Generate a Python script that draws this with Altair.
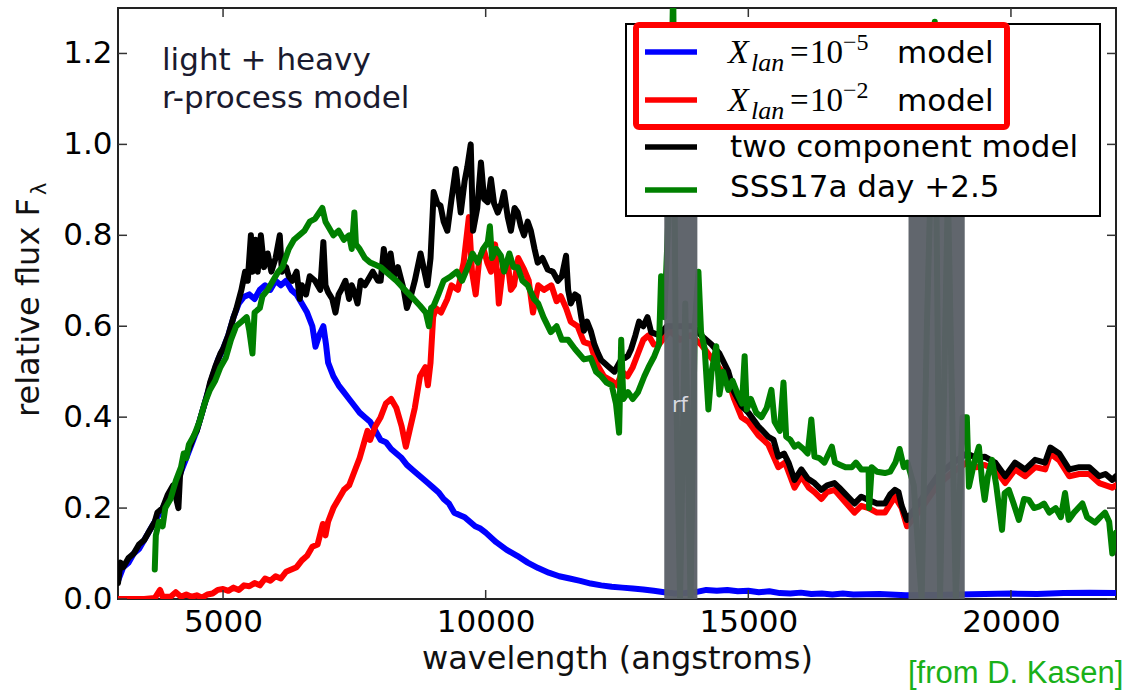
import altair as alt
import pandas as pd

# ---------------- data ----------------
x_ticks = [5000, 10000, 15000, 20000]
y_ticks = [0.0, 0.2, 0.4, 0.6, 0.8, 1.0, 1.2]

blue = [(3000,0.04),(3100,0.07),(3200,0.08),(3300,0.10),(3400,0.11),(3500,0.13),(3600,0.15),(3700,0.17),(3800,0.19),(3900,0.21),
        (4000,0.23),(4100,0.25),(4200,0.28),(4300,0.31),(4400,0.34),(4500,0.37),(4600,0.41),(4700,0.45),(4800,0.49),(4900,0.525),
        (5000,0.55),(5100,0.58),(5200,0.62),(5300,0.65),(5400,0.665),(5500,0.67),(5600,0.66),(5700,0.68),(5800,0.69),(5900,0.68),
        (6000,0.70),(6100,0.69),(6200,0.70),(6300,0.68),(6400,0.67),(6500,0.65),(6600,0.63),(6700,0.60),(6760,0.555),(6830,0.58),
        (6910,0.60),(6960,0.56),(7000,0.52),(7100,0.49),(7200,0.47),(7300,0.455),(7400,0.44),(7500,0.425),(7600,0.41),(7700,0.40),
        (7800,0.39),(7900,0.37),(8000,0.35),(8100,0.345),(8200,0.33),(8300,0.32),(8400,0.31),(8500,0.295),(8600,0.285),(8700,0.275),
        (8800,0.265),(8900,0.255),(9000,0.245),(9100,0.235),(9200,0.22),(9300,0.21),(9400,0.19),(9500,0.185),(9600,0.18),(9700,0.17),
        (9800,0.16),(9900,0.155),(10000,0.146),(10200,0.125),(10400,0.108),(10600,0.095),(10800,0.08),(11000,0.068),(11200,0.058),
        (11400,0.05),(11600,0.045),(11800,0.04),(12000,0.034),(12200,0.03),(12400,0.027),(12600,0.025),(12800,0.023),(13000,0.021),
        (13200,0.018),(13400,0.015),(13600,0.012),(13800,0.013),(14000,0.015),(14200,0.02),(14400,0.018),(14600,0.02),(14800,0.017),
        (15000,0.018),(15200,0.015),(15400,0.017),(15600,0.013),(15800,0.012),(16000,0.014),(16200,0.011),(16400,0.012),(16600,0.01),
        (16800,0.012),(17000,0.01),(17500,0.011),(18000,0.008),(18500,0.009),(19000,0.01),(19500,0.011),(20000,0.012),(20500,0.011),
        (21000,0.013),(21500,0.014),(22000,0.013)]

red = [(3000,0.0),(3500,0.0),(3700,0.002),(3800,0.02),(3850,0.005),(4000,0.005),(4100,0.015),(4200,0.005),(4300,0.01),(4400,0.005),
       (4500,0.008),(4600,0.003),(4700,0.01),(4800,0.012),(4900,0.02),(5000,0.022),(5100,0.018),(5200,0.025),(5300,0.02),(5400,0.03),
       (5500,0.028),(5600,0.035),(5700,0.03),(5800,0.045),(5900,0.04),(6000,0.05),(6100,0.045),(6200,0.06),(6300,0.065),(6400,0.07),
       (6500,0.085),(6600,0.095),(6700,0.115),(6800,0.12),(6900,0.165),(6950,0.14),(7000,0.17),(7100,0.2),(7200,0.22),(7300,0.24),
       (7400,0.25),(7500,0.28),(7600,0.31),(7700,0.35),(7750,0.37),(7800,0.35),(7900,0.38),(8000,0.40),(8100,0.43),(8200,0.44),
       (8300,0.42),(8400,0.38),(8480,0.335),(8550,0.37),(8650,0.42),(8750,0.49),(8850,0.51),(8900,0.47),(8950,0.52),(9000,0.62),
       (9050,0.64),(9150,0.63),(9270,0.66),(9350,0.69),(9470,0.68),(9580,0.74),(9680,0.84),(9740,0.72),(9810,0.67),(9880,0.75),
       (9960,0.77),(10030,0.74),(10100,0.72),(10180,0.78),(10250,0.65),(10330,0.73),(10420,0.74),(10480,0.68),(10540,0.69),
       (10620,0.75),(10730,0.725),(10820,0.70),(10900,0.63),(11000,0.69),(11110,0.68),(11250,0.69),(11350,0.655),(11430,0.666),
       (11530,0.64),(11620,0.61),(11750,0.60),(11870,0.565),(12000,0.56),(12100,0.52),(12250,0.49),(12400,0.48),(12500,0.47),
       (12600,0.50),(12700,0.49),(12800,0.51),(12900,0.54),(13000,0.57),(13100,0.58),(13200,0.56),(13300,0.56),(13500,0.59),
       (13700,0.57),(13900,0.58),(14100,0.56),(14300,0.53),(14500,0.50),(14620,0.48),(14730,0.44),(14870,0.40),(15000,0.39),
       (15190,0.36),(15380,0.34),(15570,0.29),(15700,0.30),(15880,0.245),(16010,0.27),(16150,0.245),(16260,0.235),(16390,0.22),
       (16500,0.235),(16640,0.24),(16830,0.215),(17020,0.19),(17150,0.205),(17290,0.20),(17450,0.19),(17600,0.19),(17790,0.225),
       (17920,0.20),(18020,0.16),(18300,0.20),(18600,0.25),(18900,0.28),(19160,0.30),(19350,0.29),(19500,0.295),(19700,0.285),
       (19890,0.255),(20080,0.285),(20270,0.27),(20460,0.29),(20650,0.285),(20750,0.32),(20920,0.305),(21110,0.27),(21300,0.275),
       (21490,0.275),(21680,0.255),(21930,0.245),(22000,0.25)]

black = [(3000,0.035),(3050,0.08),(3100,0.07),(3200,0.09),(3300,0.10),(3400,0.12),(3500,0.13),(3600,0.15),(3700,0.17),(3750,0.19),
         (3850,0.20),(3950,0.23),(4050,0.25),(4150,0.20),(4180,0.27),(4250,0.31),(4350,0.33),(4450,0.36),(4500,0.37),(4600,0.41),
         (4700,0.45),(4750,0.475),(4850,0.51),(4950,0.54),(5000,0.55),(5100,0.58),(5200,0.62),(5250,0.637),(5350,0.68),(5420,0.72),
         (5470,0.70),(5500,0.75),(5530,0.80),(5560,0.72),(5620,0.79),(5660,0.72),(5720,0.80),(5780,0.73),(5850,0.76),(5920,0.72),
         (6000,0.75),(6080,0.80),(6120,0.72),(6200,0.73),(6250,0.71),(6320,0.70),(6400,0.72),(6460,0.66),(6500,0.69),(6580,0.67),
         (6650,0.71),(6750,0.70),(6850,0.68),(6910,0.785),(6950,0.69),(7000,0.675),(7080,0.66),(7140,0.63),(7200,0.67),(7250,0.68),
         (7330,0.70),(7400,0.66),(7450,0.69),(7500,0.675),(7560,0.65),(7620,0.70),(7700,0.69),(7750,0.70),(7850,0.72),(7950,0.70),
         (8000,0.70),(8060,0.77),(8120,0.72),(8190,0.76),(8250,0.71),(8330,0.73),(8440,0.68),(8500,0.64),(8560,0.66),(8650,0.70),
         (8760,0.76),(8890,0.69),(8950,0.75),(9010,0.895),(9080,0.87),(9140,0.865),(9200,0.83),(9270,0.81),(9350,0.88),(9430,0.946),
         (9525,0.85),(9600,0.92),(9650,0.95),(9715,1.0),(9760,0.81),(9840,0.86),(9910,0.96),(9970,0.88),(10040,0.873),(10100,0.924),
         (10160,0.87),(10230,0.85),(10300,0.87),(10350,0.895),(10420,0.84),(10480,0.81),(10550,0.86),(10610,0.85),(10670,0.82),
         (10730,0.80),(10800,0.83),(10860,0.81),(10930,0.77),(10990,0.74),(11080,0.75),(11180,0.725),(11280,0.72),(11375,0.70),
         (11450,0.71),(11530,0.755),(11570,0.68),(11620,0.65),(11700,0.67),(11760,0.665),(11820,0.62),(11870,0.59),(11930,0.61),
         (12000,0.59),(12070,0.56),(12140,0.54),(12200,0.525),(12250,0.52),(12350,0.51),(12450,0.50),(12580,0.527),(12650,0.53),
         (12710,0.535),(12770,0.55),(12850,0.58),(12920,0.61),(13000,0.60),(13080,0.62),(13150,0.587),(13300,0.58),(13450,0.60),
         (13700,0.60),(13950,0.60),(14100,0.58),(14300,0.56),(14450,0.54),(14620,0.50),(14730,0.455),(14870,0.425),(15000,0.41),
         (15190,0.38),(15380,0.357),(15480,0.35),(15570,0.313),(15680,0.32),(15765,0.30),(15880,0.262),(16010,0.285),(16130,0.265),
         (16260,0.255),(16390,0.24),(16500,0.25),(16640,0.255),(16730,0.245),(16830,0.233),(17020,0.21),(17150,0.225),(17290,0.218),
         (17450,0.21),(17600,0.21),(17700,0.23),(17790,0.24),(17860,0.235),(17920,0.205),(18020,0.174),(18300,0.22),(18600,0.27),
         (18900,0.30),(19160,0.32),(19350,0.31),(19500,0.313),(19700,0.30),(19890,0.27),(20080,0.30),(20270,0.285),(20460,0.306),
         (20650,0.30),(20750,0.333),(20920,0.32),(21110,0.285),(21300,0.29),(21490,0.29),(21680,0.27),(21800,0.275),(21930,0.262),
         (22000,0.27)]

green = [(3700,0.065),(3720,0.14),(3780,0.17),(3850,0.16),(3900,0.20),(4000,0.22),(4100,0.26),(4200,0.29),(4250,0.32),(4300,0.31),
         (4350,0.34),(4450,0.36),(4550,0.39),(4650,0.43),(4750,0.46),(4850,0.48),(4950,0.51),(5050,0.53),(5150,0.57),(5250,0.60),
         (5350,0.61),(5450,0.62),(5500,0.59),(5560,0.54),(5600,0.63),(5700,0.64),(5750,0.666),(5850,0.68),(5950,0.70),(6050,0.72),
         (6130,0.73),(6250,0.77),(6350,0.79),(6450,0.80),(6550,0.81),(6650,0.83),(6750,0.836),(6890,0.86),(6950,0.83),(7000,0.82),
         (7100,0.80),(7200,0.81),(7300,0.79),(7400,0.80),(7450,0.77),(7500,0.85),(7530,0.78),(7600,0.77),(7700,0.75),(7800,0.74),
         (7900,0.735),(8000,0.73),(8100,0.72),(8200,0.71),(8300,0.70),(8380,0.69),(8500,0.675),(8630,0.66),(8750,0.645),(8860,0.63),
         (8920,0.60),(8960,0.64),(9010,0.645),(9100,0.67),(9200,0.70),(9340,0.71),(9450,0.72),(9550,0.70),(9660,0.73),(9750,0.76),
         (9850,0.74),(9950,0.77),(10040,0.785),(10080,0.82),(10120,0.75),(10200,0.77),(10290,0.755),(10350,0.72),(10450,0.76),
         (10530,0.73),(10610,0.73),(10700,0.70),(10800,0.69),(10920,0.66),(11000,0.65),(11100,0.62),(11240,0.587),(11350,0.60),
         (11450,0.57),(11570,0.57),(11700,0.55),(11870,0.527),(12000,0.53),(12100,0.50),(12200,0.49),(12300,0.476),(12400,0.47),
         (12480,0.43),(12540,0.366),(12580,0.57),(12620,0.44),(12710,0.455),(12800,0.44),(12900,0.455),(13020,0.49),(13100,0.51),
         (13210,0.534),(13300,0.56),(13340,0.71),(13400,0.62),(13500,0.90),(13570,1.35),(13620,0.50),(13700,0.0),(13800,0.65),
         (13900,0.0),(13980,0.60),(14050,0.72),(14100,0.587),(14170,0.55),(14240,0.417),(14300,0.50),(14390,0.556),(14450,0.45),
         (14520,0.50),(14620,0.46),(14700,0.48),(14800,0.45),(14880,0.43),(14930,0.534),(14970,0.417),(15050,0.44),(15150,0.41),
         (15250,0.40),(15350,0.42),(15440,0.46),(15500,0.39),(15600,0.37),(15670,0.476),(15720,0.357),(15800,0.35),(15880,0.335),
         (15950,0.34),(16050,0.33),(16130,0.32),(16200,0.395),(16260,0.313),(16350,0.31),(16450,0.30),(16590,0.335),(16650,0.30),
         (16750,0.295),(16850,0.29),(16970,0.29),(17050,0.30),(17150,0.285),(17290,0.285),(17300,0.20),(17350,0.29),(17450,0.28),
         (17600,0.277),(17700,0.28),(17800,0.30),(17880,0.33),(17960,0.29),(18030,0.30),(18150,0.25),(18300,0.0),(18400,0.60),
         (18550,1.27),(18650,0.0),(18800,0.90),(18950,0.0),(19080,0.40),(19160,0.40),(19200,0.247),(19300,0.30),(19390,0.335),
         (19450,0.26),(19500,0.218),(19560,0.27),(19640,0.306),(19720,0.25),(19830,0.152),(19880,0.233),(19960,0.24),(20050,0.21),
         (20150,0.174),(20250,0.22),(20340,0.218),(20440,0.20),(20530,0.203),(20630,0.21),(20730,0.19),(20850,0.20),(20950,0.18),
         (21030,0.233),(21100,0.174),(21200,0.19),(21360,0.21),(21450,0.18),(21600,0.168),(21700,0.18),(21790,0.19),(21870,0.17),
         (21930,0.10),(22000,0.146)]

band_start = [13400, 18050]
band_end = [14030, 19120]
band_top = [0.845, 0.845]

legend_labels = ["model", "model", "two component model", "SSS17a day +2.5"]
exponents = ["\u22125", "\u22122"]

# ---------------- chart ----------------
W, H = 998, 591
FONT = "DejaVu Sans"

x_scale = alt.Scale(domain=[3000, 22000], nice=False, zero=False)
y_scale = alt.Scale(domain=[0, 1.3], nice=False, zero=False)
x_axis = alt.Axis(values=x_ticks, format="d", title="wavelength (angstroms)", grid=False, domain=False,
                  ticks=False, tickSize=0, labelFont=FONT, labelFontSize=31, labelColor="#000000",
                  labelPadding=8, labelFlush=False, titleFont=FONT, titleFontSize=32, titleFontWeight="normal",
                  titleColor="#111111", titleX=499, titleY=69, titleAlign="center", titleBaseline="alphabetic")
y_axis = alt.Axis(values=y_ticks, format=".1f", title="relative flux F", grid=False, domain=False,
                  ticks=False, tickSize=0, labelFont=FONT, labelFontSize=31, labelColor="#000000",
                  labelPadding=6, labelFlush=False, titleFont=FONT, titleFontSize=32, titleFontWeight="normal",
                  titleColor="#111111", titleAngle=270, titleX=-80, titleY=299, titleAlign="center",
                  titleBaseline="alphabetic")


def X(field):
    return alt.X(field, type="quantitative", scale=x_scale, axis=x_axis)


def Y(field):
    return alt.Y(field, type="quantitative", scale=y_scale, axis=y_axis)


def spectrum(pairs, color):
    df = pd.DataFrame(pairs, columns=["wl", "flux"])
    return alt.Chart(df).mark_line(color=color, strokeWidth=6, clip=True, strokeJoin="round",
                                   strokeCap="round").encode(x=X("wl"), y=Y("flux"))


one = pd.DataFrame({"k": [0]})


def txt(text, x, y, size, color="#000000", font=FONT, style="normal", align="left", angle=0, weight="normal"):
    return alt.Chart(one).mark_text(text=text, font=font, fontSize=size, color=color, fontStyle=style,
                                    fontWeight=weight, align=align, baseline="alphabetic",
                                    angle=angle).encode(x=alt.value(x), y=alt.value(y))


def hline(x1, x2, y, color, width):
    return alt.Chart(one).mark_rule(color=color, strokeWidth=width).encode(
        x=alt.value(x1), x2=alt.value(x2), y=alt.value(y))


layers = [
    spectrum(blue, "#0000ff"),
    spectrum(red, "#ff0000"),
    spectrum(black, "#000000"),
    spectrum(green, "#008000"),
]

bands = pd.DataFrame({"x1": band_start, "x2": band_end, "y0": [0.0, 0.0], "y1": band_top})
layers.append(alt.Chart(bands).mark_rect(color="#5b6067", opacity=0.96).encode(
    x=X("x1"), x2="x2", y=Y("y0"), y2="y1"))
layers.append(txt("rf", 562, 404, 21, color="#d8d8e0", align="center"))

# inward ticks on all four sides
xt = pd.DataFrame({"wl": x_ticks})
yt = pd.DataFrame({"flux": y_ticks})
tick_col = "#333333"
layers.append(alt.Chart(xt).mark_rule(color=tick_col, strokeWidth=1.5).encode(
    x=X("wl"), y=alt.value(H), y2=alt.value(H - 9)))
layers.append(alt.Chart(xt).mark_rule(color=tick_col, strokeWidth=1.5).encode(
    x=X("wl"), y=alt.value(0), y2=alt.value(9)))
layers.append(alt.Chart(yt).mark_rule(color=tick_col, strokeWidth=1.5).encode(
    y=Y("flux"), x=alt.value(0), x2=alt.value(9)))
layers.append(alt.Chart(yt).mark_rule(color=tick_col, strokeWidth=1.5).encode(
    y=Y("flux"), x=alt.value(W - 9), x2=alt.value(W)))

# subscript lambda of the y title
layers.append(txt("\u03bb", -72, 187, 21, color="#111111", angle=270))

# legend box
layers.append(alt.Chart(one).mark_rect(fill="#ffffff", stroke="#000000", strokeWidth=2).encode(
    x=alt.value(508), x2=alt.value(982), y=alt.value(16), y2=alt.value(208)))
legend_colors = ["#0000ff", "#ff0000", "#000000", "#008000"]
legend_rows = [44, 92, 139, 182]
for c, yy in zip(legend_colors, legend_rows):
    layers.append(hline(527, 579, yy, c, 5.5))

SERIF = "Liberation Serif"
for i, base in enumerate([55, 103]):
    layers.append(txt("X", 610, base, 34, font=SERIF, style="italic"))
    layers.append(txt("lan", 633, base + 8, 26, font=SERIF, style="italic"))
    layers.append(txt("=", 672, base, 33, font=SERIF))
    layers.append(txt("10", 692, base, 33, font=SERIF))
    layers.append(txt(exponents[i], 725, base - 13, 24, font=SERIF))
    layers.append(txt(legend_labels[i], 779, base, 31))
layers.append(txt(legend_labels[2], 612, 149, 31))
layers.append(txt(legend_labels[3], 612, 189, 31))

# red highlight box
layers.append(alt.Chart(one).mark_rect(filled=False, stroke="#ff0000", strokeWidth=6, cornerRadius=3).encode(
    x=alt.value(518), x2=alt.value(889), y=alt.value(17), y2=alt.value(119)))

# annotations
layers.append(txt("light + heavy", 44, 62, 31, color="#1a1a2e"))
layers.append(txt("r-process model", 44, 100, 31, color="#1a1a2e"))
layers.append(txt("[from D. Kasen]", 790, 675, 31, color="#19b019", font="Liberation Sans"))

chart = alt.layer(*layers).properties(
    width=W, height=H,
    padding={"left": 118, "top": 8, "right": 8, "bottom": 91},
    autosize=alt.AutoSizeParams(type="none"),
    background="#ffffff",
).configure_view(stroke="#222222", strokeWidth=2)

chart.save("out.html", embed_options={"renderer": "svg", "actions": False})
